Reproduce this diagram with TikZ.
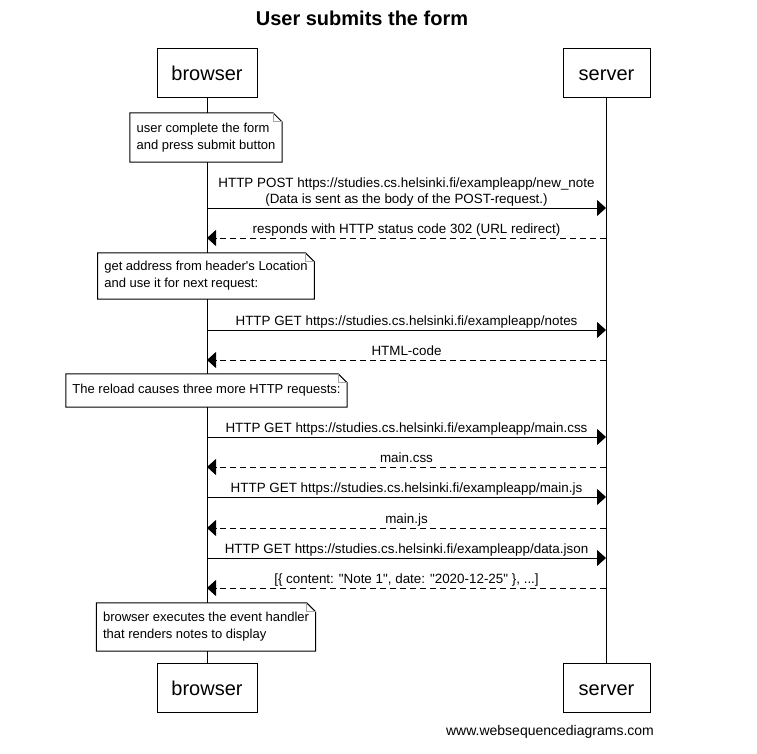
\documentclass[tikz,border=0pt]{standalone}
\usepackage{fontspec}
\setmainfont{Liberation Sans}[Ligatures=TeXOff]
\usetikzlibrary{arrows.meta}

\tikzset{
  actor/.style={draw, line width=1pt, minimum height=49pt, text height=15pt, text depth=0pt, font=\fontsize{20}{24}\selectfont},
  note/.style={fill=white, align=left, inner xsep=6.5pt, inner ysep=0pt, font=\fontsize{13}{17}\selectfont},
  msg/.style={line width=1pt, -{Triangle[length=9pt,width=16pt]}},
  reply/.style={msg, dash pattern=on 6pt off 4pt},
  lbl/.style={midway, above, inner sep=1pt, text depth=3pt, align=center, font=\fontsize{13.4}{16}\selectfont}
}
% folded corner outline for a note node
\newcommand{\drawnote}[1]{%
  \draw[line width=1pt] (#1.north west) -- ([xshift=-9pt]#1.north east) -- ([yshift=-9pt]#1.north east) -- (#1.south east) -- (#1.south west) -- cycle;
  \draw[gray!70, line width=0.8pt] ([xshift=-9pt]#1.north east) -- ([xshift=-9pt,yshift=-9pt]#1.north east) -- ([yshift=-9pt]#1.north east);}

\begin{document}
\begin{tikzpicture}[x=1pt, y=-1pt]
  \useasboundingbox (0,0) rectangle (757,754);
  \node[font=\bfseries\fontsize{20}{24}\selectfont] (title) at (362,18) {User submits the form};

  % participants
  \node[actor, minimum width=100pt] (btop) at (207,73.5) {browser};
  \node[actor, minimum width=87pt] (stop) at (606.5,73.5) {server};
  \node[actor, minimum width=100pt] (bbot) at (207,688) {browser};
  \node[actor, minimum width=87pt] (sbot) at (606.5,688) {server};
  \draw[line width=1pt] (btop) -- (bbot);
  \draw[line width=1pt] (stop) -- (sbot);

  % notes
  \node[note, minimum height=49pt] (n1) at (206,137.5) {user complete the form\\and press submit button};
  \drawnote{n1}
  \node[note, minimum height=46pt] (n2) at (206,276) {get address from header's Location\\and use it for next request:};
  \drawnote{n2}
  \node[note, minimum height=33pt] (n3) at (206.5,390.5) {The reload causes three more HTTP requests:};
  \drawnote{n3}
  \node[note, minimum height=48pt] (n4) at (206,627) {browser executes the event handler\\that renders notes to display};
  \drawnote{n4}

  % message ends on the lifelines
  \coordinate (b1) at (207,208); \coordinate (s1) at (606,208);
  \coordinate (b2) at (207,238); \coordinate (s2) at (606,238);
  \coordinate (b3) at (207,330); \coordinate (s3) at (606,330);
  \coordinate (b4) at (207,360); \coordinate (s4) at (606,360);
  \coordinate (b5) at (207,437); \coordinate (s5) at (606,437);
  \coordinate (b6) at (207,467); \coordinate (s6) at (606,467);
  \coordinate (b7) at (207,497); \coordinate (s7) at (606,497);
  \coordinate (b8) at (207,528); \coordinate (s8) at (606,528);
  \coordinate (b9) at (207,558); \coordinate (s9) at (606,558);
  \coordinate (b10) at (207,588); \coordinate (s10) at (606,588);

  \draw[msg] (b1) -- (s1) node[lbl] {HTTP POST https://studies.cs.helsinki.fi/exampleapp/new\_note\\(Data is sent as the body of the POST-request.)};
  \draw[reply] (s2) -- (b2) node[lbl] {responds with HTTP status code 302 (URL redirect)};
  \draw[msg] (b3) -- (s3) node[lbl] {HTTP GET https://studies.cs.helsinki.fi/exampleapp/notes};
  \draw[reply] (s4) -- (b4) node[lbl] {HTML-code};
  \draw[msg] (b5) -- (s5) node[lbl] {HTTP GET https://studies.cs.helsinki.fi/exampleapp/main.css};
  \draw[reply] (s6) -- (b6) node[lbl] {main.css};
  \draw[msg] (b7) -- (s7) node[lbl] {HTTP GET https://studies.cs.helsinki.fi/exampleapp/main.js};
  \draw[reply] (s8) -- (b8) node[lbl] {main.js};
  \draw[msg] (b9) -- (s9) node[lbl] {HTTP GET https://studies.cs.helsinki.fi/exampleapp/data.json};
  \draw[reply] (s10) -- (b10) node[lbl] {[\{ content: "Note 1", date: "2020-12-25" \}, ...]};

  \node[font=\fontsize{14}{17}\selectfont] (credit) at (550,732) {www.websequencediagrams.com};
\end{tikzpicture}
\end{document}
